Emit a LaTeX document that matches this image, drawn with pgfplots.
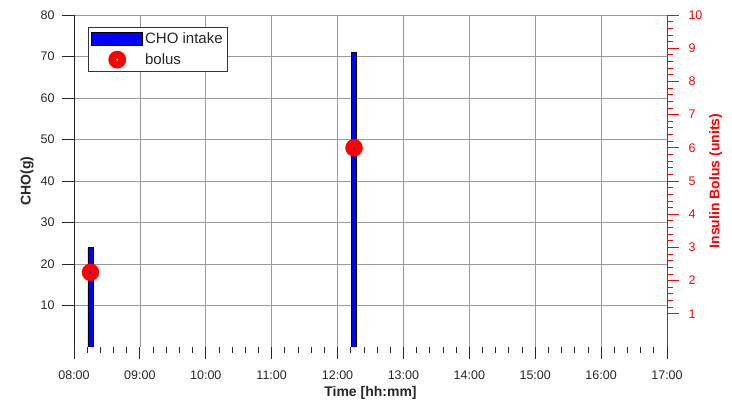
\documentclass[border=0pt]{standalone}
\usepackage{pgfplots}
\pgfplotsset{compat=1.18}
\usepackage{fontspec}
\setmainfont{Liberation Sans}
\definecolor{txtgray}{gray}{0.15}
\begin{document}
\begin{tikzpicture}
\path (0pt,0pt) rectangle (732pt,417pt);
% left axis: carbohydrate intake
\begin{axis}[
  at={(74pt,70pt)}, anchor=south west,
  scale only axis, width=593pt, height=332pt,
  xmin=8, xmax=17, ymin=0, ymax=80,
  axis line style={draw=none},
  xtick pos=left, ytick pos=left,
  xtick={8,...,17},
  xticklabels={08:00,09:00,10:00,11:00,12:00,13:00,14:00,15:00,16:00,17:00},
  minor x tick num=4,
  ytick={10,20,...,80},
  tick align=outside,
  major tick length=12pt, minor tick length=6pt,
  tick style={black!85, line width=0.8pt},
  grid=major, major grid style={black!40, line width=0.7pt},
  /pgf/number format/assume math mode=true,
  ticklabel style={font=\fontsize{12.5}{14}\selectfont, text=txtgray},
  xticklabel style={yshift=-8pt},
  yticklabel style={xshift=-4pt},
  label style={font=\fontsize{14}{16}\selectfont\bfseries, text=txtgray},
  xlabel={Time [hh:mm]}, ylabel={CHO(g)},
  legend style={at={(0.0236,0.964)}, anchor=north west,
    draw=black!80, line width=0.8pt, font=\fontsize{15}{17}\selectfont,
    text=txtgray, row sep=4pt, inner sep=3pt},
  legend cell align=left,
]
\addplot[ybar, bar width=5pt, fill=blue, draw=black, line width=0.7pt,
  legend image code/.code={\draw[fill=blue, draw=black, line width=0.7pt] (0pt,-6.5pt) rectangle (51pt,6.5pt);}]
  coordinates {(8.25,24) (12.25,71)};
\addlegendentry{CHO intake}
\addlegendimage{legend image code/.code={\fill[red] (25.5pt,0pt) circle (8.5pt); \fill[white] (25.5pt,0pt) circle (0.8pt);}}
\addlegendentry{bolus}
% left and bottom spines
\draw[black!85, line width=0.8pt] (rel axis cs:0,1) -- (rel axis cs:0,0) -- (rel axis cs:1,0);
\end{axis}
% right axis: insulin bolus
\begin{axis}[
  at={(74pt,70pt)}, anchor=south west,
  scale only axis, width=593pt, height=332pt,
  xmin=8, xmax=17, ymin=0, ymax=10,
  axis line style={draw=none},
  xtick=\empty,
  ytick pos=right, yticklabel pos=right, ylabel near ticks,
  ytick={1,...,10},
  minor y tick num=4,
  tick align=outside,
  major tick length=12pt, minor tick length=6pt,
  tick style={red, line width=0.8pt},
  /pgf/number format/assume math mode=true,
  yticklabel style={font=\fontsize{12.5}{14}\selectfont, text=red, xshift=6pt},
  ylabel style={font=\fontsize{14}{16}\selectfont\bfseries, text=red},
  ylabel={Insulin Bolus (units)},
  clip=false,
]
\draw[red, line width=0.8pt] (rel axis cs:1,0) -- (rel axis cs:1,1);
\addplot[only marks, mark=*, mark size=8.5pt, red] coordinates {(8.25,2.25) (12.25,6)};
\addplot[only marks, mark=*, mark size=0.7pt, blue] coordinates {(8.25,2.25) (12.25,6)};
\end{axis}
\end{tikzpicture}
\end{document}
